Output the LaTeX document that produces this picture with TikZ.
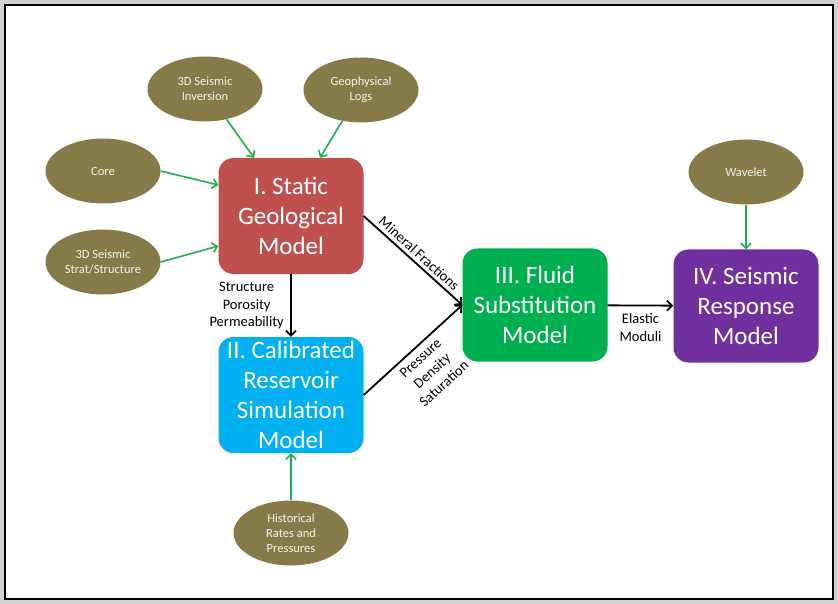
\documentclass[tikz,border=0pt]{standalone}
\usepackage{fontspec}
\setmainfont{Carlito}
\usetikzlibrary{shapes.geometric}
\usetikzlibrary{arrows.meta}
\usetikzlibrary{positioning}
\definecolor{boxred}{HTML}{C0504D}
\definecolor{boxblue}{HTML}{00B0F0}
\definecolor{boxgreen}{HTML}{00B050}
\definecolor{boxpurple}{HTML}{7030A0}
\definecolor{olive}{HTML}{857A48}
\definecolor{linkgreen}{HTML}{1DB04F}

\begin{document}
\begin{tikzpicture}
          [x=1pt, y=-1pt,
           model/.style={rounded corners=15pt, minimum width=145pt, minimum height=116pt,
             text=white, align=center, font=\fontsize{25}{30}\selectfont, inner sep=0pt},
           source/.style={ellipse, fill=olive, minimum width=115pt, minimum height=65pt,
             text=white!90!olive, align=center, font=\fontsize{12.5}{15}\selectfont, inner sep=0pt},
           feed/.style={draw=linkgreen, line width=1.6pt, -{Straight Barb[length=5pt, width=10pt]}},
           flow/.style={draw, line width=1.8pt, -{Straight Barb[length=5pt, width=10pt]}},
           lbl/.style={font=\fontsize{14.5}{17.5}\selectfont, align=center}]
          \fill[gray!35] (0,0) rectangle (838,604);
          \draw[fill=white, line width=1.2pt] (5,5) rectangle (833,599);

          \node (static) [model, fill=boxred] at (291,216) {I. Static\\Geological\\Model};
          \node (calib) [model, fill=boxblue] at (291,395) {II. Calibrated\\Reservoir\\Simulation\\Model};
          \node (fluid) [model, fill=boxgreen, minimum height=113pt] at (535,305) {III. Fluid\\Substitution\\Model};
          \node (seis) [model, fill=boxpurple, minimum height=113pt] at (746,306) {IV. Seismic\\Response\\Model};

          \node (inv) [source] at (205,89) {3D Seismic\\Inversion};
          \node (logs) [source] at (361,90) {Geophysical\\Logs};
          \node (core) [source] at (103,171) {Core};
          \node (strat) [source] at (103,262) {3D Seismic\\Strat/Structure};
          \node (wave) [source] at (746,172) {Wavelet};
          \node (hist) [source] at (291,533) {Historical\\Rates and\\Pressures};

          \draw[feed] (inv) -- (static.north west -| 254,0);
          \draw[feed] (logs) -- (static.north west -| 320,0);
          \draw[feed] (core.east) -- (static.west |- 0,185);
          \draw[feed] (strat.east) -- (static.west |- 0,246);
          \draw[feed] (wave) -- (seis);
          \draw[feed] (hist) -- (calib);

          \draw[flow] (static) -- node[lbl, left=3pt] {Structure\\Porosity\\Permeability} (calib);
          \draw[flow] (static.east) -- node[lbl, above, sloped] {Mineral Fractions} (fluid.west);
          \draw[flow] (calib.east) -- node[lbl, below=2pt, sloped] {Pressure\\Density\\Saturation} (fluid.west);
          \draw[flow] (fluid) -- node[lbl, below=4pt] {Elastic\\Moduli} (seis);

        \end{tikzpicture}
\end{document}
